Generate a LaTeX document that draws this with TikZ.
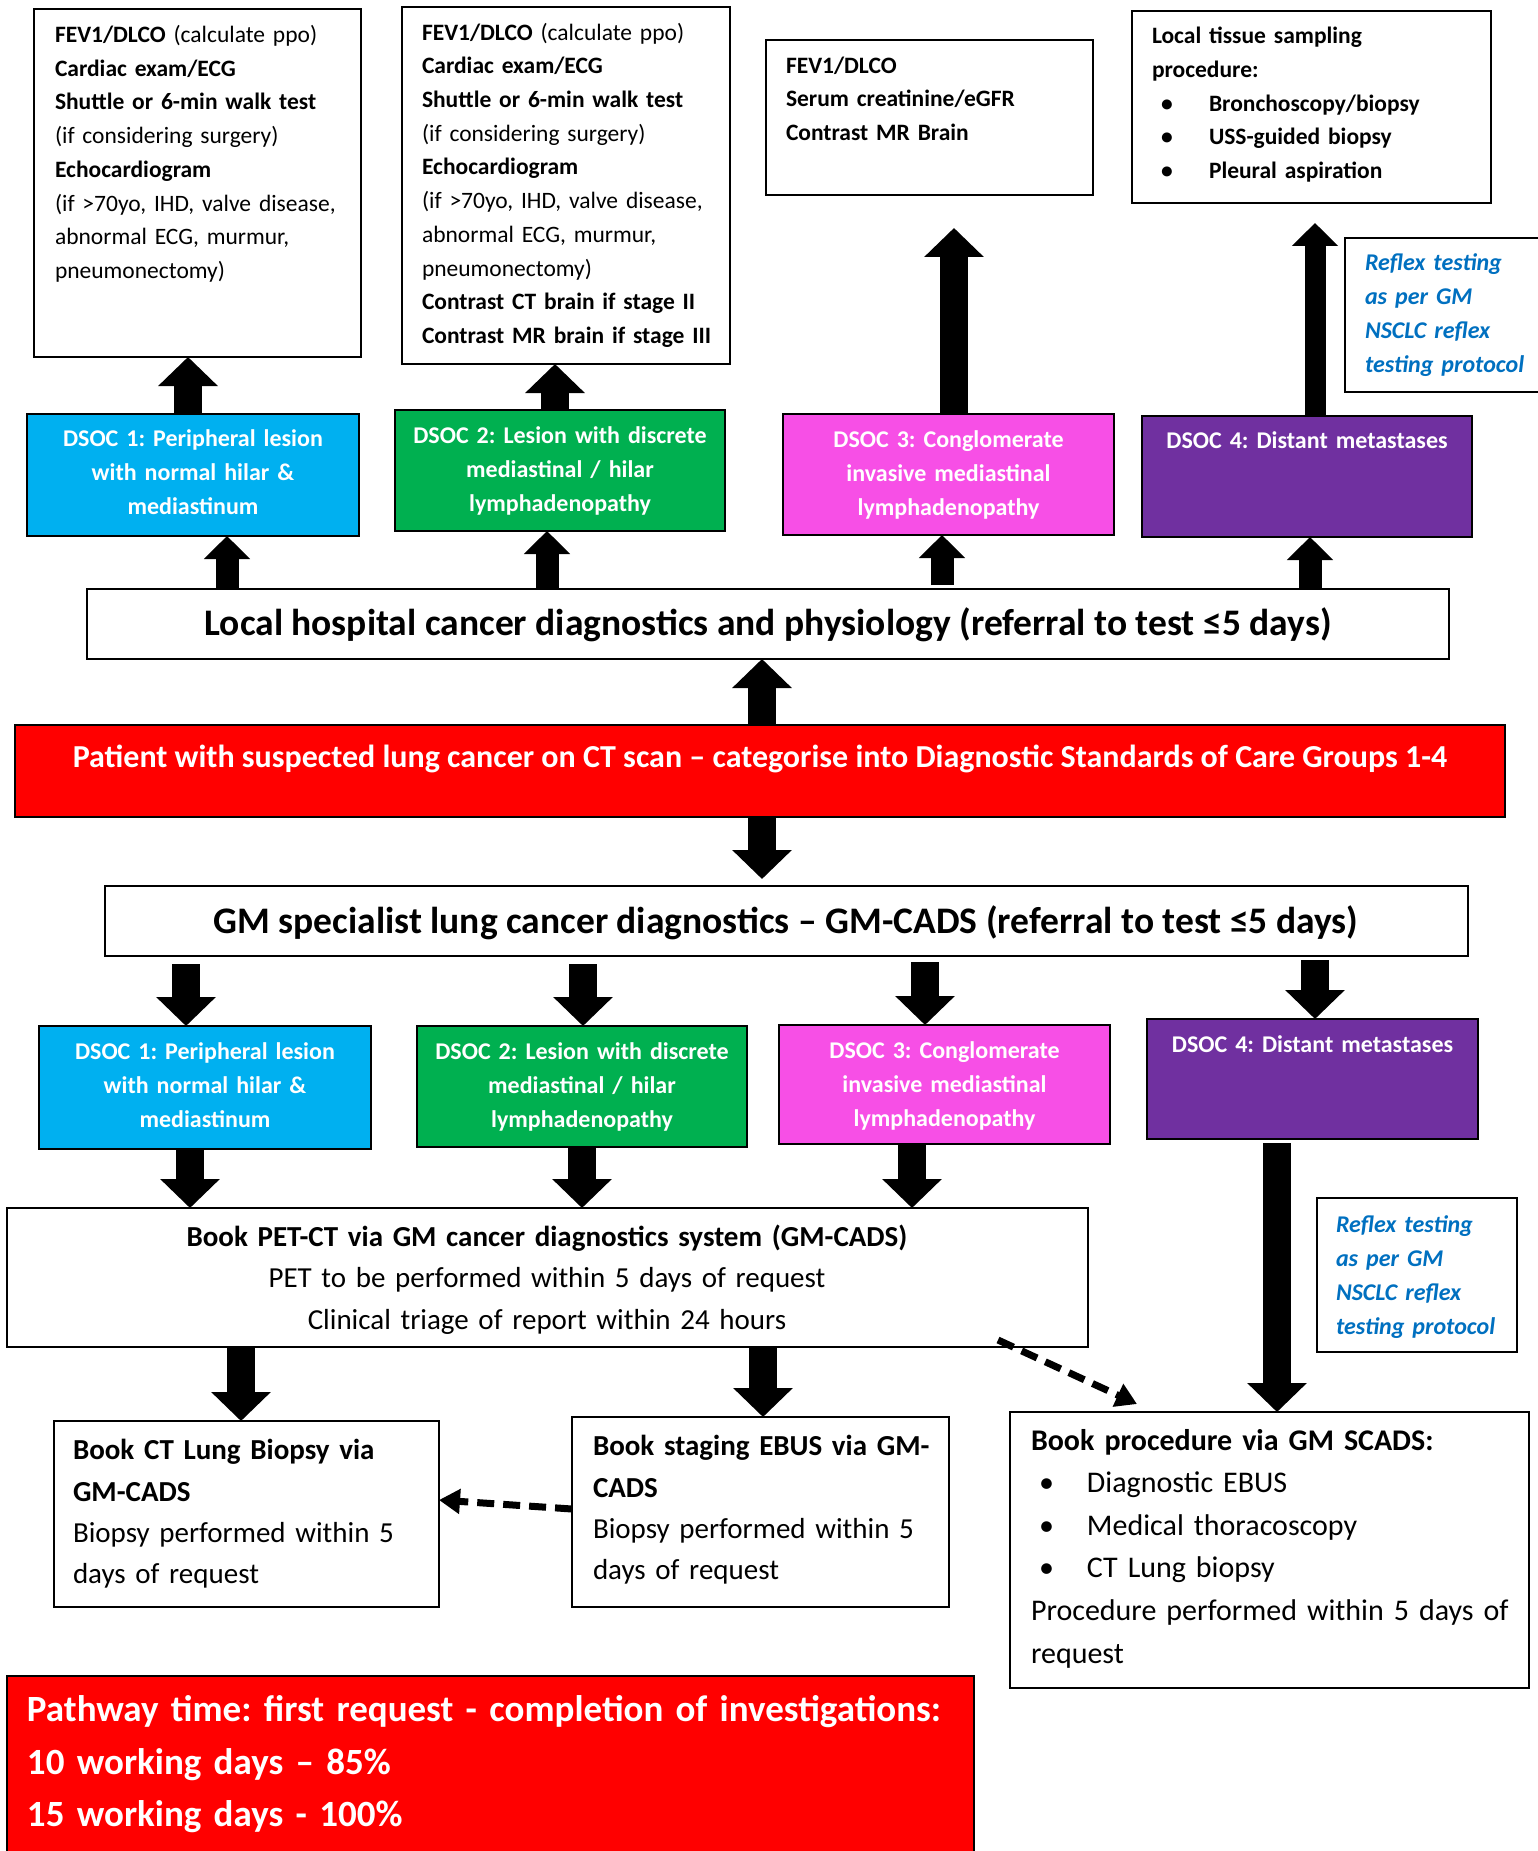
\documentclass[tikz,border=0pt]{standalone}
\usepackage{fontspec}
\setmainfont{Carlito}
\usetikzlibrary{arrows.meta,fit}
\definecolor{dsA}{HTML}{00B0F0}
\definecolor{dsB}{HTML}{00B050}
\definecolor{dsC}{HTML}{F74FE6}
\definecolor{dsD}{HTML}{7030A0}
\definecolor{rflx}{HTML}{0070C0}
\definecolor{alarm}{HTML}{FF0000}
\begin{document}
\frenchspacing
\begin{tikzpicture}[x=1pt,y=-1pt,
  box/.style={draw=black,line width=1.8pt,inner sep=0pt,outer sep=0pt},
  tx/.style={inner sep=0pt,outer sep=0pt,anchor=north west,align=left,text width=#1,execute at begin node=\strut},
  ctx/.style={inner sep=0pt,outer sep=0pt,anchor=north,align=center,text width=#1,execute at begin node=\strut},
  ltx/.style={inner sep=0pt,outer sep=0pt,anchor=base},
  fsmall/.style={font=\fontsize{23.5}{33.7}\selectfont},
  fsmallb/.style={font=\bfseries\fontsize{23.5}{33.7}\selectfont},
  dsf/.style={font=\bfseries\fontsize{24}{34}\selectfont,text=white},
  rfx/.style={font=\bfseries\itshape\fontsize{24}{34}\selectfont,text=rflx},
  fmid/.style={font=\fontsize{29}{41.3}\selectfont},
  blk/.style={line width=28pt,-{Triangle[width=58pt,length=29pt]}},
  blks/.style={line width=23pt,-{Triangle[width=45pt,length=23pt]}},
  blkt/.style={line width=21pt,-{Triangle[width=45pt,length=23pt]}},
  dsh/.style={line width=7pt,dash pattern=on 17pt off 9pt,-{Triangle[width=24pt,length=21pt]}}
]
\fill[white] (0,0) rectangle (1537,1851);
\useasboundingbox (0,0) rectangle (1537,1851);

% ---------- top information boxes ----------
\node[box,fit={(34,9) (361,357)}] (infoA) {};
\node[tx=300pt,fsmall] (infoA-t) at (55,19) {\textbf{FEV1/DLCO} (calculate ppo)\\ \textbf{Cardiac exam/ECG}\\ \textbf{Shuttle or 6-min walk test}\\ (if considering surgery)\\ \textbf{Echocardiogram}\\ (if >70yo, IHD, valve disease,\\ abnormal ECG, murmur,\\ pneumonectomy)};

\node[box,fit={(402,7) (730,364)}] (infoB) {};
\node[tx=300pt,fsmall] (infoB-t) at (422,16.6) {\textbf{FEV1/DLCO} (calculate ppo)\\ \textbf{Cardiac exam/ECG}\\ \textbf{Shuttle or 6-min walk test}\\ (if considering surgery)\\ \textbf{Echocardiogram}\\ (if >70yo, IHD, valve disease,\\ abnormal ECG, murmur,\\ pneumonectomy)\\ \textbf{Contrast CT brain if stage II}\\ \textbf{Contrast MR brain if stage III}};

\node[box,fit={(766,40) (1093,195)}] (infoC) {};
\node[tx=300pt,fsmallb] (infoC-t) at (786,49.6) {FEV1/DLCO\\ Serum creatinine/eGFR\\ Contrast MR Brain};

\node[box,fit={(1132,11) (1491,203)}] (infoD) {};
\node[tx=340pt,fsmallb] (infoD-t) at (1152,20.2) {Local tissue sampling\\ procedure:\\ \hspace*{9pt}\makebox[48pt][l]{•}Bronchoscopy/biopsy\\ \hspace*{9pt}\makebox[48pt][l]{•}USS-guided biopsy\\ \hspace*{9pt}\makebox[48pt][l]{•}Pleural aspiration};

\node[box,fit={(1345,238) (1548,392)}] (reflexT) {};
\node[tx=180pt,rfx] (reflexT-t) at (1365,246.6) {Reflex testing\\ as per GM\\ NSCLC reflex\\ testing protocol};

% ---------- top DSOC row ----------
\node[box,fill=dsA,fit={(27,414) (359,536)}] (dsA1) {};
\node[ctx=320pt,dsf] (dsA1-t) at (193,422.6) {DSOC 1: Peripheral lesion\\ with normal hilar \&\\ mediastinum};
\node[box,fill=dsB,fit={(395,410) (725,531)}] (dsB1) {};
\node[ctx=320pt,dsf] (dsB1-t) at (560,419.2) {DSOC 2: Lesion with discrete\\ mediastinal / hilar\\ lymphadenopathy};
\node[box,fill=dsC,fit={(783,414) (1114,535)}] (dsC1) {};
\node[ctx=320pt,dsf] (dsC1-t) at (948.5,423.6) {DSOC 3: Conglomerate\\ invasive mediastinal\\ lymphadenopathy};
\node[box,fill=dsD,fit={(1142,416) (1472,537)}] (dsD1) {};
\node[ctx=320pt,dsf] (dsD1-t) at (1307,425.1) {DSOC 4: Distant metastases};

% ---------- central boxes ----------
\node[box,fit={(87,589) (1449,659)}] (local) {};
\node[ltx,font=\bfseries\fontsize{37.5}{44}\selectfont] (local-t) at (768,635) {Local hospital cancer diagnostics and physiology (referral to test ≤5 days)};

\node[box,fill=alarm,fit={(15,725) (1505,817)}] (patient) {};
\node[ltx,text=white,font=\bfseries\fontsize{32}{38}\selectfont] (patient-t) at (760,767) {Patient with suspected lung cancer on CT scan – categorise into Diagnostic Standards of Care Groups 1-4};

\node[box,fit={(105,886) (1468,956)}] (gm) {};
\node[ltx,font=\bfseries\fontsize{37.5}{44}\selectfont] (gm-t) at (786,933) {GM specialist lung cancer diagnostics – GM-CADS (referral to test ≤5 days)};

% ---------- lower DSOC row ----------
\node[box,fill=dsA,fit={(39,1026) (371,1149)}] (dsA2) {};
\node[ctx=320pt,dsf] (dsA2-t) at (205,1035.6) {DSOC 1: Peripheral lesion\\ with normal hilar \&\\ mediastinum};
\node[box,fill=dsB,fit={(417,1026) (747,1147)}] (dsB2) {};
\node[ctx=320pt,dsf] (dsB2-t) at (582,1035.6) {DSOC 2: Lesion with discrete\\ mediastinal / hilar\\ lymphadenopathy};
\node[box,fill=dsC,fit={(779,1025) (1110,1144)}] (dsC2) {};
\node[ctx=320pt,dsf] (dsC2-t) at (944.5,1034.6) {DSOC 3: Conglomerate\\ invasive mediastinal\\ lymphadenopathy};
\node[box,fill=dsD,fit={(1147,1019) (1478,1139)}] (dsD2) {};
\node[ctx=320pt,dsf] (dsD2-t) at (1312.5,1028.6) {DSOC 4: Distant metastases};

% ---------- PET and procedures ----------
\node[box,fit={(7,1208) (1088,1347)}] (pet) {};
\node[ctx=1000pt,fmid] (pet-t) at (547,1217.7) {\textbf{Book PET-CT via GM cancer diagnostics system (GM-CADS)}\\ PET to be performed within 5 days of request\\ Clinical triage of report within 24 hours};

\node[box,fit={(1317,1198) (1517,1352)}] (reflexB) {};
\node[tx=180pt,rfx] (reflexB-t) at (1336,1208.6) {Reflex testing\\ as per GM\\ NSCLC reflex\\ testing protocol};

\node[box,fit={(54,1421) (439,1607)}] (ctbx) {};
\node[tx=360pt,fmid] (ctbx-t) at (73,1431) {\textbf{Book CT Lung Biopsy via}\\ \textbf{GM-CADS}\\ Biopsy performed within 5\\ days of request};

\node[box,fit={(572,1417) (949,1607)}] (ebus) {};
\node[tx=360pt,fmid] (ebus-t) at (593,1427) {\textbf{Book staging EBUS via GM-}\\ \textbf{CADS}\\ Biopsy performed within 5\\ days of request};

\node[box,fit={(1010,1412) (1529,1688)}] (proc) {};
\node[tx=500pt,font=\fontsize{30}{42.6}\selectfont] (proc-t) at (1031,1420.2) {\textbf{Book procedure via GM SCADS:}\\ \hspace*{8pt}\makebox[48pt][l]{•}Diagnostic EBUS\\ \hspace*{8pt}\makebox[48pt][l]{•}Medical thoracoscopy\\ \hspace*{8pt}\makebox[48pt][l]{•}CT Lung biopsy\\ Procedure performed within 5 days of\\ request};

\node[box,fill=alarm,fit={(7,1676) (974,1865)}] (path) {};
\node[tx=940pt,text=white,font=\bfseries\fontsize{37}{52.5}\selectfont] (path-t) at (27,1685) {Pathway time: first request - completion of investigations:\\ 10 working days – 85\%\\ 15 working days - 100\%};

% ---------- arrow x positions ----------
\coordinate (u1) at (188,0);
\coordinate (u2) at (555,0);
\coordinate (e3) at (954,228);
\coordinate (e4) at (1315,223);
\coordinate (v1) at (227,0);
\coordinate (v2) at (547,0);
\coordinate (v3) at (942,0);
\coordinate (v4) at (1310,0);
\coordinate (w) at (762,0);
\coordinate (g1) at (186,0);
\coordinate (g2) at (583,0);
\coordinate (g3) at (925,0);
\coordinate (g4) at (1315,0);
\coordinate (h1) at (190,0);
\coordinate (h2) at (582,0);
\coordinate (h3) at (912,0);
\coordinate (h4) at (1277,0);
\coordinate (k1) at (241,0);
\coordinate (k2) at (763,0);
\coordinate (ds1) at (998,1340);
\coordinate (ds2) at (1137,1404);
\coordinate (n1) at (0,1509);
\coordinate (n2) at (0,1500);

% ---------- arrows ----------
\draw[blk] (dsA1.north -| u1) -- (infoA.south -| u1);
\draw[blk] (dsB1.north -| u2) -- (infoB.south -| u2);
\draw[blk] (dsC1.north -| e3) -- (e3);
\draw[blkt] (dsD1.north -| e4) -- (e4);

\draw[blks] (local.north -| v1) -- (dsA1.south -| v1);
\draw[blks] (local.north -| v2) -- (dsB1.south -| v2);
\draw[blks,shorten <=4pt] (local.north -| v3) -- (dsC1.south -| v3);
\draw[blks] (local.north -| v4) -- (dsD1.south -| v4);

\draw[blk] (patient.north -| w) -- (local.south -| w);
\draw[blk,shorten >=7pt] (patient.south -| w) -- (gm.north -| w);

\draw[blk,shorten <=8pt] (gm.south -| g1) -- (dsA2.north -| g1);
\draw[blk,shorten <=8pt] (gm.south -| g2) -- (dsB2.north -| g2);
\draw[blk,shorten <=6pt] (gm.south -| g3) -- (dsC2.north -| g3);
\draw[blk,shorten <=4pt] (gm.south -| g4) -- (dsD2.north -| g4);

\draw[blk] (dsA2.south -| h1) -- (pet.north -| h1);
\draw[blk] (dsB2.south -| h2) -- (pet.north -| h2);
\draw[blk] (dsC2.south -| h3) -- (pet.north -| h3);
\draw[blk,shorten <=4pt] (dsD2.south -| h4) -- (proc.north -| h4);

\draw[blk] (pet.south -| k1) -- (ctbx.north -| k1);
\draw[blk] (pet.south -| k2) -- (ebus.north -| k2);

\draw[dsh] (ds1) -- (ds2);
\draw[dsh] (ebus.west |- n1) -- (ctbx.east |- n2);
\end{tikzpicture}
\end{document}
